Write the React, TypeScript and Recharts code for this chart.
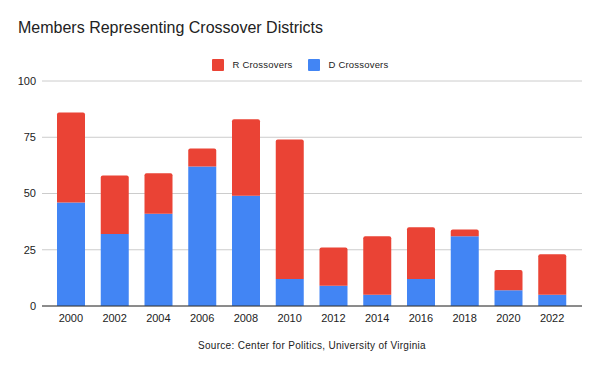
import React from 'react';
import { BarChart, Bar, XAxis, YAxis, CartesianGrid } from 'recharts';

const years = ['2000', '2002', '2004', '2006', '2008', '2010', '2012', '2014', '2016', '2018', '2020', '2022'];
const dCrossovers = [46, 32, 41, 62, 49, 12, 9, 5, 12, 31, 7, 5];
const rCrossovers = [40, 26, 18, 8, 34, 62, 17, 26, 23, 3, 9, 18];
const yTicks = [0, 25, 50, 75, 100];

const data = years.map((year, i) => ({
  year,
  d: dCrossovers[i],
  r: rCrossovers[i],
}));

const FONT = '"Liberation Sans", Arial, sans-serif';
const RED = '#EA4335';
const BLUE = '#4285F4';

const legendItems = [
  { label: 'R Crossovers', color: RED },
  { label: 'D Crossovers', color: BLUE },
];

export default function App() {
  return (
    <div style={{ position: 'absolute', left: 0, top: 0, width: 600, height: 371, background: '#fff', fontFamily: FONT }}>
      <div style={{ position: 'absolute', left: 18, top: 19, fontSize: 16, color: '#222', whiteSpace: 'nowrap' }}>
        Members Representing Crossover Districts
      </div>
      {/* legend */}
      <div style={{ position: 'absolute', left: 0, top: 59, width: 600, display: 'flex', justifyContent: 'center', fontSize: 9.5, color: '#222' }}>
        {legendItems.map((it, i) => (
          <div key={it.label} style={{ display: 'flex', alignItems: 'center', marginLeft: i ? 15 : 0 }}>
            <span style={{ width: 12, height: 12, background: it.color, borderRadius: 1, display: 'inline-block', marginRight: 9 }} />
            <span style={{ letterSpacing: 0.2, lineHeight: '12px' }}>{it.label}</span>
          </div>
        ))}
      </div>
      <BarChart width={600} height={371} data={data} margin={{ top: 81, right: 18, left: 0, bottom: 35 }}>
        <CartesianGrid vertical={false} stroke="#cccccc" />
        <XAxis
          dataKey="year"
          tickLine={false}
          axisLine={{ stroke: '#333333' }}
          tick={{ fontSize: 11, fill: '#222', fontFamily: FONT }}
          interval={0}
          height={30}
          padding={{ left: 7, right: 8 }}
        />
        <YAxis
          width={42}
          domain={[0, 100]}
          ticks={yTicks}
          axisLine={false}
          tickLine={false}
          tickMargin={0}
          tick={{ fontSize: 11, fill: '#222', fontFamily: FONT }}
        />
        <Bar dataKey="d" stackId="a" fill={BLUE} barSize={28} isAnimationActive={false} name="D Crossovers" />
        <Bar dataKey="r" stackId="a" fill={RED} barSize={28} radius={[2, 2, 0, 0]} isAnimationActive={false} name="R Crossovers" />
      </BarChart>
      <div style={{ position: 'absolute', left: 42, width: 540, top: 340, textAlign: 'center', fontSize: 10, color: '#222', letterSpacing: 0.3 }}>
        Source: Center for Politics, University of Virginia
      </div>
    </div>
  );
}
